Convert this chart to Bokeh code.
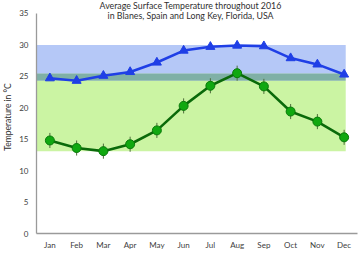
import numpy as np
from bokeh.plotting import figure
from bokeh.models import Range1d, FixedTicker, Label
from bokeh.embed import file_html
from bokeh.resources import INLINE

months = ["Jan", "Feb", "Mar", "Apr", "May", "Jun", "Jul", "Aug", "Sep", "Oct", "Nov", "Dec"]
long_key = [24.7, 24.3, 25.1, 25.7, 27.2, 29.1, 29.7, 29.9, 29.8, 27.9, 26.9, 25.3]
blanes = [14.8, 13.6, 13.1, 14.2, 16.4, 20.3, 23.5, 25.5, 23.4, 19.4, 17.8, 15.3]
blanes_err = [1.2, 1.2, 1.2, 1.2, 1.2, 1.2, 1.2, 1.2, 1.2, 1.2, 1.2, 1.2]
y_ticks = [0, 5, 10, 15, 20, 25, 30, 35]
title_lines = ["Average Surface Temperature throughout 2016",
               "in Blanes, Spain and Long Key, Florida, USA"]

FONT = "Lato"
x = np.arange(1, len(months) + 1)
lk = np.array(long_key)
bl = np.array(blanes)
err = np.array(blanes_err)

p = figure(width=358, height=266, output_backend="svg", toolbar_location=None,
           x_range=Range1d(0.5, 12.5), y_range=Range1d(0, 35 + 13 / 6.3),
           min_border_left=34, min_border_right=1, min_border_top=0, min_border_bottom=33)
p.outline_line_color = None
p.grid.visible = False
p.background_fill_color = "white"
p.border_fill_color = "white"

# range bands
bx0, bx1 = 0.5, 12.06
lk_min, lk_max = lk.min(), lk.max()
bl_min, bl_max = bl.min(), bl.max()
p.quad(left=bx0, right=bx1, bottom=bl_min, top=lk_min, fill_color="#cbf4a3", line_color=None)
p.quad(left=bx0, right=bx1, bottom=lk_min, top=bl_max, fill_color="#7fb0a6", line_color=None)
p.quad(left=bx0, right=bx1, bottom=bl_max, top=30.0, fill_color="#b5c8f7", line_color=None)

# Long Key (blue)
p.line(x, lk, line_color="#1f3fe6", line_width=2.6)
p.scatter(x, lk, marker="triangle", size=9, fill_color="#1f3fe6", line_color="#1f3fe6")

# Blanes (green)
p.segment(x0=x, y0=bl - err, x1=x, y1=bl + err, line_color="#4d6b3a", line_width=1)
p.line(x, bl, line_color="#0a6a0a", line_width=2.6)
p.scatter(x, bl, marker="circle", size=9, fill_color="#10a810", line_color="#0a7a0a", line_width=1)

# axes
p.xaxis.ticker = FixedTicker(ticks=list(x))
p.xaxis.major_label_overrides = {int(i): m for i, m in zip(x, months)}
p.yaxis.ticker = FixedTicker(ticks=y_ticks)
p.yaxis.bounds = (0, 35)
for ax in (p.xaxis, p.yaxis):
    ax.major_tick_line_color = None
    ax.minor_tick_line_color = None
    ax.major_tick_out = 0
    ax.major_tick_in = 0
    ax.axis_line_color = "#9a9a9a"
    ax.axis_line_width = 1.3
    ax.major_label_text_font = FONT
    ax.major_label_text_font_size = "8px"
    ax.major_label_text_color = "#404040"
p.xaxis.major_label_standoff = 6
p.yaxis.major_label_standoff = 8
p.yaxis.axis_label = "Temperature in °C"
p.yaxis.axis_label_text_font = FONT
p.yaxis.axis_label_text_font_size = "8.5px"
p.yaxis.axis_label_text_font_style = "normal"
p.yaxis.axis_label_text_color = "#303030"
p.yaxis.axis_label_standoff = 3

# titles as labels
ppu = 6.3
def ypix(py):
    return (233.5 - py) / ppu

def xpix(px):
    return 0.5 + (px - 34) / (323 / 12)

p.add_layout(Label(x=xpix(189), y=ypix(5.5), text=title_lines[0], text_align="center",
                   text_baseline="middle", text_font=FONT, text_font_size="8.8px",
                   text_color="#303030"))
p.add_layout(Label(x=xpix(189), y=ypix(15.5), text=title_lines[1], text_align="center",
                   text_baseline="middle", text_font=FONT, text_font_size="8.8px",
                   text_color="#303030"))
p.add_layout(Label(x=xpix(185), y=ypix(259.5), text="Month (2016)", text_align="center",
                   text_baseline="middle", text_font=FONT, text_font_size="8.8px",
                   text_color="#303030"))

open("out.html", "w").write(file_html(p, INLINE))
